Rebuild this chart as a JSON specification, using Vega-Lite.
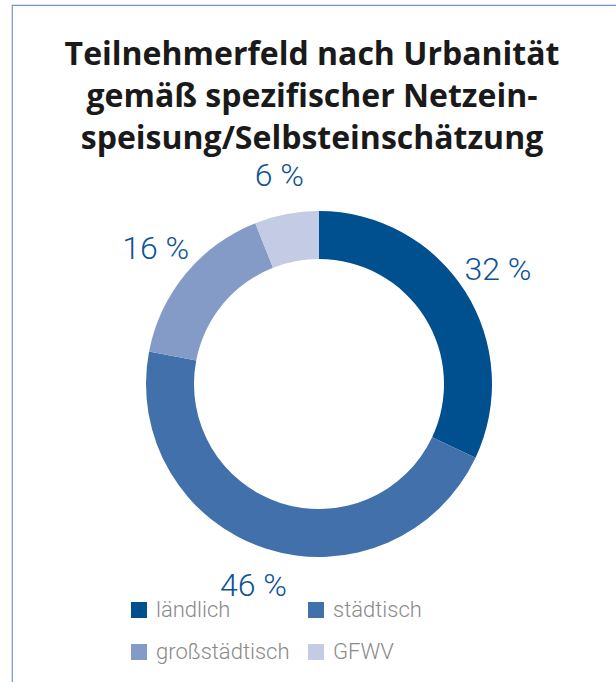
{
  "$schema": "https://vega.github.io/schema/vega-lite/v6.json",
  "width": 614,
  "height": 758,
  "autosize": {"type": "none"},
  "padding": {"left": 12, "top": 5, "right": 0, "bottom": 0},
  "background": "white",
  "view": {"stroke": "#6f95d0", "strokeWidth": 1.2},
  "title": {
    "text": ["Teilnehmerfeld nach Urbanität", "gemäß spezifischer Netzein-", "speisung/Selbsteinschätzung"],
    "orient": "top",
    "anchor": "middle",
    "frame": "group",
    "offset": -183,
    "dx": -7,
    "fontSize": 32,
    "font": "Open Sans",
    "fontWeight": "bold",
    "color": "#1a1a1a",
    "lineHeight": 42,
    "baseline": "bottom"
  },
  "data": {
    "values": [
      {"category": "ländlich", "value": 32},
      {"category": "städtisch", "value": 46},
      {"category": "großstädtisch", "value": 16},
      {"category": "GFWV", "value": 6}
    ]
  },
  "transform": [
    {"window": [{"op": "row_number", "as": "rank"}]},
    {"calculate": "datum.value + ' %'", "as": "label"}
  ],
  "encoding": {
    "theta": {"field": "value", "type": "quantitative", "stack": true},
    "order": {"field": "rank", "type": "quantitative"}
  },
  "layer": [
    {
      "mark": {"type": "arc", "innerRadius": 125, "outerRadius": 173},
      "encoding": {
        "color": {
          "field": "category",
          "type": "nominal",
          "sort": ["ländlich", "städtisch", "großstädtisch", "GFWV"],
          "scale": {
            "domain": ["ländlich", "städtisch", "großstädtisch", "GFWV"],
            "range": ["#004f8f", "#4170ab", "#859bc7", "#c3cbe5"]
          },
          "legend": {
            "title": null,
            "orient": "none",
            "legendX": 116,
            "legendY": 594,
            "direction": "horizontal",
            "columns": 2,
            "columnPadding": 15,
            "rowPadding": 20,
            "symbolType": "square",
            "symbolSize": 256,
            "symbolStrokeWidth": 0,
            "symbolOffset": 0,
            "labelOffset": 6,
            "labelFontSize": 22,
            "labelFont": "Roboto",
            "labelFontWeight": 300,
            "labelColor": "#8a8a8a",
            "labelLimit": 300
          }
        }
      }
    },
    {
      "mark": {"type": "text", "radius": 212, "fontSize": 32, "font": "Roboto", "fontWeight": 300, "color": "#0d5396"},
      "encoding": {
        "text": {"field": "label", "type": "nominal"}
      }
    }
  ]
}
